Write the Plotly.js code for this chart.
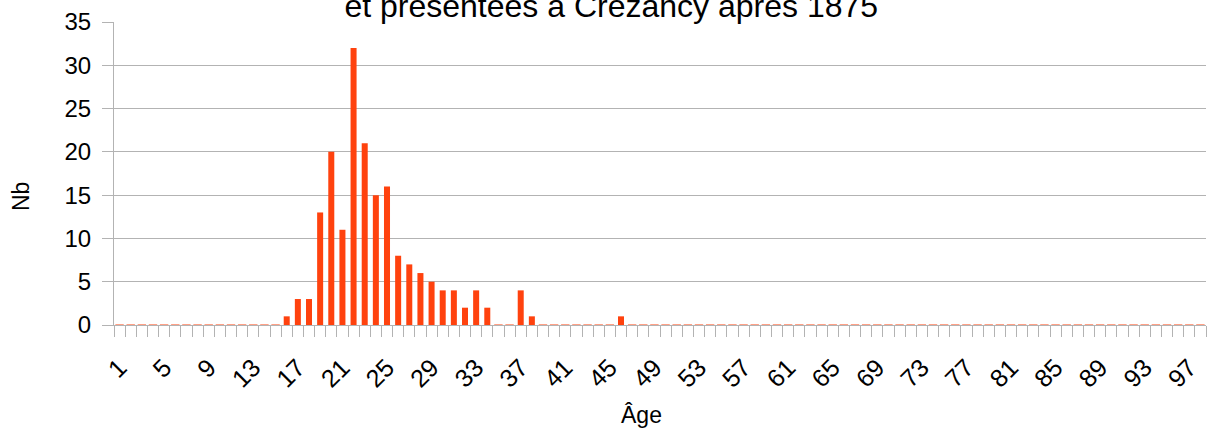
<!DOCTYPE html>
<html>
<head>
<meta charset="utf-8">
<script src="https://cdn.plot.ly/plotly-3.0.1.min.js"></script>
<style>html,body{margin:0;padding:0;background:#fff;}#chart{width:1208px;height:431px;}</style>
</head>
<body>
<div id="chart"></div>
<script>
// Ages 1..98
const ages = [];
for (let a = 1; a <= 98; a++) ages.push(a);
// Counts (non-zero ones listed; others are 0)
const nonZeroAges   = [16, 17, 18, 19, 20, 21, 22, 23, 24, 25, 26, 27, 28, 29, 30, 31, 32, 33, 34, 37, 38, 46];
const nonZeroCounts = [ 1,  3,  3, 13, 20, 11, 32, 21, 15, 16,  8,  7,  6,  5,  4,  4,  2,  4,  2,  4,  1,  1];
const counts = ages.map(a => { const i = nonZeroAges.indexOf(a); return i >= 0 ? nonZeroCounts[i] : 0; });
const tickAges = ages.filter(a => (a - 1) % 4 === 0);
const tickLabels = tickAges.map(String);
const yTicks = [0, 5, 10, 15, 20, 25, 30, 35];

const barColor = '#FF420E';
const gridColor = '#b3b3b3';
const font = 'Liberation Sans, Arial, sans-serif';

const zeroAges = ages.filter((a, i) => counts[i] === 0);
const zeroVals = counts.filter(v => v === 0);

const traces = [
  { type: 'bar', x: ages, y: counts, marker: { color: barColor }, hoverinfo: 'x+y' },
  { type: 'scatter', mode: 'markers', x: zeroAges, y: zeroVals, cliponaxis: false,
    marker: { symbol: 'line-ew', size: 6, color: barColor, line: { color: barColor, width: 1 } },
    hoverinfo: 'skip' }
];

const layout = {
  width: 1208, height: 431,
  margin: { l: 114, r: 2, t: 22, b: 105.5 },
  paper_bgcolor: '#fff', plot_bgcolor: '#fff',
  showlegend: false,
  bargap: 0.46,
  font: { family: font, color: '#000', size: 24 },
  title: { text: 'et présentées à Crézancy après 1875', font: { family: font, size: 32, color: '#000' },
           xref: 'container', x: 0.506, xanchor: 'center', yref: 'container', y: 1 - 6/431, yanchor: 'middle' },
  xaxis: {
    type: 'linear', range: [0.5, 98.5], fixedrange: true,
    tickmode: 'array', tickvals: tickAges, ticktext: tickLabels,
    tickangle: -45, ticks: '', ticklabelstandoff: 17,
    tickfont: { family: font, size: 25, color: '#000' },
    showgrid: false, zeroline: false,
    showline: true, linecolor: gridColor, linewidth: 1,
    minor: { tick0: 0.5, dtick: 1, ticks: 'outside', ticklen: 11, tickcolor: gridColor, tickwidth: 1, showgrid: false }
  },
  yaxis: {
    range: [0, 35], fixedrange: true,
    tickmode: 'array', tickvals: yTicks,
    ticks: 'outside', ticklen: 11, tickcolor: gridColor, tickwidth: 1,
    ticklabelstandoff: 6,
    tickfont: { family: font, size: 24, color: '#000' },
    showgrid: true, gridcolor: gridColor, gridwidth: 1,
    zeroline: false, showline: true, linecolor: gridColor, linewidth: 1
  },
  annotations: [
    { text: 'Nb', xref: 'paper', yref: 'paper', x: 0, y: 0, xshift: -93, yshift: 128, textangle: -90,
      showarrow: false, font: { family: font, size: 23, color: '#000' }, xanchor: 'center', yanchor: 'middle' },
    { text: 'Âge', xref: 'paper', yref: 'paper', x: 0, y: 0, xshift: 527, yshift: -90,
      showarrow: false, font: { family: font, size: 23, color: '#000' }, xanchor: 'center', yanchor: 'middle' }
  ]
};

Plotly.newPlot('chart', traces, layout, { staticPlot: true, displayModeBar: false });
</script>
</body>
</html>
